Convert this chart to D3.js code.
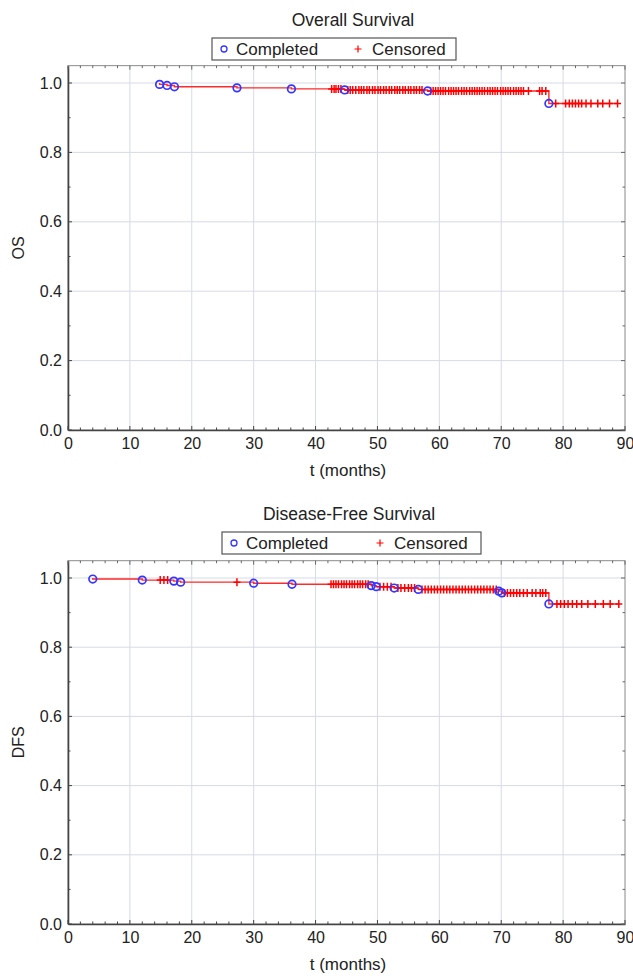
<!DOCTYPE html>
<html>
<head>
<meta charset="utf-8">
<script src="https://cdn.jsdelivr.net/npm/d3@7"></script>
<style>
body { margin: 0; background: #fff; }
text { font-family: "Liberation Sans", Arial, sans-serif; fill: #222; }
</style>
</head>
<body>
<div id="chart"></div>
<script>
var width = 633;
var height = 976;

// Overall survival
var osEventT = [14.8, 16.0, 17.2, 27.3, 36.1, 44.7, 58.1, 77.7];
var osEventS = [0.996, 0.993, 0.989, 0.986, 0.983, 0.980, 0.977, 0.941];
var osCensT = [42.6, 43.0, 43.3, 43.7, 44.1, 45.2, 45.6, 46.0, 46.5, 47.0, 47.4, 47.8, 48.3, 48.7,
  49.2, 49.6, 50.1, 50.5, 51.0, 51.4, 51.9, 52.3, 52.8, 53.2, 53.6, 54.1, 54.5, 55.0, 55.4, 55.9,
  56.3, 56.8, 57.2, 58.6, 59.0, 59.4, 59.8, 60.2, 60.6, 61.0, 61.5, 61.9, 62.3, 62.7, 63.1, 63.6,
  64.0, 64.4, 64.9, 65.3, 65.7, 66.1, 66.5, 66.9, 67.3, 67.8, 68.2, 68.6, 69.0, 69.4, 69.9, 70.3,
  70.7, 71.1, 71.5, 72.0, 72.4, 72.8, 73.2, 73.6, 74.4, 76.2, 76.6, 77.2, 78.8, 80.4, 81.0, 81.5,
  82.0, 82.5, 83.0, 83.7, 84.5, 85.6, 86.4, 87.5, 88.8];

// Disease-free survival
var dfsEventT = [4.0, 12.0, 17.1, 18.2, 30.0, 36.2, 49.0, 49.8, 52.7, 56.6, 69.6, 70.1, 77.7];
var dfsEventS = [0.997, 0.994, 0.991, 0.988, 0.985, 0.982, 0.978, 0.975, 0.971, 0.967, 0.962, 0.957, 0.925];
var dfsCensT = [14.9, 15.5, 16.1, 27.3, 42.5, 42.9, 43.3, 43.7, 44.2, 44.6, 45.0, 45.5, 45.9, 46.3,
  46.8, 47.2, 47.6, 48.1, 48.5, 50.4, 51.0, 51.6, 52.2, 53.3, 53.8, 54.4, 55.0, 55.5, 56.0, 57.2,
  57.7, 58.2, 58.7, 59.2, 59.7, 60.2, 60.7, 61.2, 61.7, 62.2, 62.7, 63.2, 63.7, 64.2, 64.7, 65.2,
  65.7, 66.2, 66.7, 67.2, 67.7, 68.2, 68.7, 69.2, 70.5, 71.0, 71.5, 72.0, 72.5, 73.0, 73.6, 74.2,
  75.0, 75.6, 76.3, 76.7, 77.2, 79.0, 79.6, 80.2, 80.8, 81.5, 82.2, 83.0, 84.0, 85.2, 86.5, 87.6, 89.0];

var xTicks = [0, 10, 20, 30, 40, 50, 60, 70, 80, 90];
var yTicks = [0, 0.2, 0.4, 0.6, 0.8, 1.0];

var svg = d3.select("#chart").append("svg")
  .attr("width", width)
  .attr("height", height);

function survAt(tArr, sArr, t) {
  var s = 1;
  for (var i = 0; i < tArr.length; ++i) {
    if (tArr[i] <= t) s = sArr[i];
  }
  return s;
}

function drawPanel(opt) {
  var x = d3.scaleLinear().domain([0, 90]).range([68, 625]);
  var y = d3.scaleLinear().domain([0, 1.05]).range([opt.bottom, opt.bottom - (opt.bottom - opt.one) * 1.05]);
  var top = y(1.05);
  var g = svg.append("g");

  // grid
  g.selectAll(".vg").data(xTicks.slice(1, -1)).enter().append("line")
    .attr("x1", function(d) { return x(d); }).attr("x2", function(d) { return x(d); })
    .attr("y1", top).attr("y2", opt.bottom)
    .attr("stroke", "#d5dbe6").attr("stroke-width", 1);
  g.selectAll(".hg").data(yTicks.slice(1)).enter().append("line")
    .attr("x1", x(0)).attr("x2", x(90))
    .attr("y1", function(d) { return y(d); }).attr("y2", function(d) { return y(d); })
    .attr("stroke", "#d5dbe6").attr("stroke-width", 1);

  // frame
  g.append("rect")
    .attr("x", x(0)).attr("y", top)
    .attr("width", x(90) - x(0)).attr("height", opt.bottom - top)
    .attr("fill", "none").attr("stroke", "#8a8a8a").attr("stroke-width", 1);

  // axes
  var xAxis = d3.axisBottom(x).tickValues(xTicks).tickSize(0).tickPadding(8).tickFormat(d3.format("d"));
  var gx = g.append("g").attr("transform", "translate(0," + opt.bottom + ")").call(xAxis);
  var yAxis = d3.axisLeft(y).tickValues(yTicks).tickSize(0).tickPadding(6).tickFormat(d3.format(".1f"));
  var gy = g.append("g").attr("transform", "translate(" + x(0) + ",0)").call(yAxis);
  [gx, gy].forEach(function(a) {
    a.select(".domain").attr("stroke", "#444").attr("stroke-width", 1.6);
    a.selectAll("text").style("font-size", "16px").attr("fill", "#222");
  });

  // inward ticks
  var xMinor = d3.range(0, 91, 2);
  g.selectAll(".xt").data(xMinor).enter().append("line")
    .attr("x1", function(d) { return x(d); }).attr("x2", function(d) { return x(d); })
    .attr("y1", opt.bottom).attr("y2", function(d) { return opt.bottom - (d % 10 === 0 ? 4 : 2.5); })
    .attr("stroke", "#444");
  g.selectAll(".xtt").data(xMinor).enter().append("line")
    .attr("x1", function(d) { return x(d); }).attr("x2", function(d) { return x(d); })
    .attr("y1", top).attr("y2", function(d) { return top + (d % 10 === 0 ? 4 : 2.5); })
    .attr("stroke", "#666");
  var yMinor = d3.range(0, 11).map(function(i) { return i / 10; });
  g.selectAll(".yt").data(yMinor).enter().append("line")
    .attr("x1", x(0)).attr("x2", function(d, i) { return x(0) + (i % 2 === 0 ? 4 : 2.5); })
    .attr("y1", function(d) { return y(d); }).attr("y2", function(d) { return y(d); })
    .attr("stroke", "#444");
  g.selectAll(".ytr").data(yMinor).enter().append("line")
    .attr("x1", x(90)).attr("x2", function(d, i) { return x(90) - (i % 2 === 0 ? 4 : 2.5); })
    .attr("y1", function(d) { return y(d); }).attr("y2", function(d) { return y(d); })
    .attr("stroke", "#666");

  // step curve
  var pts = [[opt.eventT[0], 1]];
  for (var i = 0; i < opt.eventT.length; ++i) {
    pts.push([opt.eventT[i], i === 0 ? 1 : opt.eventS[i - 1]]);
    pts.push([opt.eventT[i], opt.eventS[i]]);
  }
  var lastT = d3.max(opt.censT);
  pts.push([lastT, opt.eventS[opt.eventS.length - 1]]);
  var line = d3.line().x(function(d) { return x(d[0]); }).y(function(d) { return y(d[1]); });
  g.append("path").datum(pts)
    .attr("d", line).attr("fill", "none").attr("stroke", "#ff2a2a").attr("stroke-width", 1.4);

  // censored marks
  g.selectAll(".cens").data(opt.censT).enter().append("path")
    .attr("transform", function(d) {
      return "translate(" + x(d) + "," + y(survAt(opt.eventT, opt.eventS, d)) + ")";
    })
    .attr("d", "M-3.5,0H3.5M0,-4V4")
    .attr("stroke", "#ff0000").attr("stroke-width", 1.5);

  // events
  g.selectAll(".ev").data(opt.eventT).enter().append("circle")
    .attr("cx", function(d) { return x(d); })
    .attr("cy", function(d, i) { return y(opt.eventS[i]); })
    .attr("r", 3.8)
    .attr("fill", "none").attr("stroke", "#3535ff").attr("stroke-width", 1.7);

  // title
  svg.append("text").attr("x", opt.titleX).attr("y", opt.titleY)
    .attr("text-anchor", "middle").style("font-size", "17.5px").text(opt.title);

  // legend
  var lg = svg.append("g");
  lg.append("rect").attr("x", opt.legX).attr("y", opt.legY)
    .attr("width", opt.legW).attr("height", 22)
    .attr("fill", "#fff").attr("stroke", "#555").attr("stroke-width", 1.2);
  lg.append("circle").attr("cx", opt.legX + 12).attr("cy", opt.legY + 11).attr("r", 3)
    .attr("fill", "none").attr("stroke", "#3535ff").attr("stroke-width", 1.3);
  lg.append("text").attr("x", opt.legX + 24).attr("y", opt.legY + 17)
    .style("font-size", "17px").text("Completed");
  lg.append("path").attr("transform", "translate(" + (opt.legX + opt.plusDx) + "," + (opt.legY + 11) + ")")
    .attr("d", "M-3.5,0H3.5M0,-3.5V3.5").attr("stroke", "#ff0000").attr("stroke-width", 1.2);
  lg.append("text").attr("x", opt.legX + opt.plusDx + 14).attr("y", opt.legY + 17)
    .style("font-size", "17px").text("Censored");

  // axis labels
  svg.append("text").attr("x", 348).attr("y", opt.bottom + 46)
    .attr("text-anchor", "middle").style("font-size", "17px").text("t (months)");
  svg.append("text")
    .attr("transform", "translate(24," + ((top + opt.bottom) / 2) + ") rotate(-90)")
    .attr("text-anchor", "middle").style("font-size", "16px").text(opt.yLabel);
}

drawPanel({
  bottom: 430, one: 83, title: "Overall Survival", titleX: 353, titleY: 26,
  legX: 212, legY: 38, legW: 244, plusDx: 146, yLabel: "OS",
  eventT: osEventT, eventS: osEventS, censT: osCensT
});

drawPanel({
  bottom: 924, one: 578, title: "Disease-Free Survival", titleX: 349, titleY: 520,
  legX: 222, legY: 532, legW: 259, plusDx: 158, yLabel: "DFS",
  eventT: dfsEventT, eventS: dfsEventS, censT: dfsCensT
});
</script>
</body>
</html>
